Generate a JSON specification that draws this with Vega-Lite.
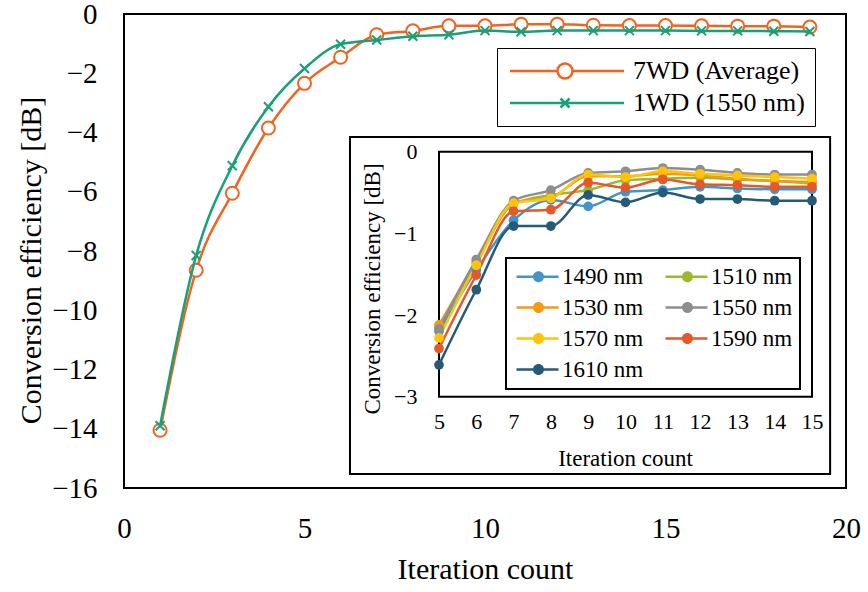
{
  "$schema": "https://vega.github.io/schema/vega-lite/v6.json",
  "width": 722,
  "height": 474,
  "autosize": {"type": "none"},
  "padding": {"left": 124, "top": 14, "right": 22, "bottom": 104},
  "background": "white",
  "config": {
    "font": "Liberation Serif",
    "view": {"stroke": "black", "strokeWidth": 2},
    "axis": {"labelColor": "black", "titleColor": "black", "labelFont": "Liberation Serif", "titleFont": "Liberation Serif", "titleFontWeight": "normal", "ticks": false, "tickSize": 0, "domain": false, "grid": false, "labelFlush": false, "labelOverlap": false},
    "legend": {"labelFont": "Liberation Serif", "labelColor": "black", "labelLimit": 400}
  },
  "datasets": {
    "main": [
      {"it": 1, "series": "7WD (Average)", "ce": -14.05},
      {"it": 2, "series": "7WD (Average)", "ce": -8.65},
      {"it": 3, "series": "7WD (Average)", "ce": -6.05},
      {"it": 4, "series": "7WD (Average)", "ce": -3.85},
      {"it": 5, "series": "7WD (Average)", "ce": -2.34},
      {"it": 6, "series": "7WD (Average)", "ce": -1.46},
      {"it": 7, "series": "7WD (Average)", "ce": -0.70},
      {"it": 8, "series": "7WD (Average)", "ce": -0.57},
      {"it": 9, "series": "7WD (Average)", "ce": -0.40},
      {"it": 10, "series": "7WD (Average)", "ce": -0.40},
      {"it": 11, "series": "7WD (Average)", "ce": -0.35},
      {"it": 12, "series": "7WD (Average)", "ce": -0.35},
      {"it": 13, "series": "7WD (Average)", "ce": -0.38},
      {"it": 14, "series": "7WD (Average)", "ce": -0.39},
      {"it": 15, "series": "7WD (Average)", "ce": -0.39},
      {"it": 16, "series": "7WD (Average)", "ce": -0.40},
      {"it": 17, "series": "7WD (Average)", "ce": -0.41},
      {"it": 18, "series": "7WD (Average)", "ce": -0.41},
      {"it": 19, "series": "7WD (Average)", "ce": -0.44},
      {"it": 1, "series": "1WD (1550 nm)", "ce": -13.9},
      {"it": 2, "series": "1WD (1550 nm)", "ce": -8.15},
      {"it": 3, "series": "1WD (1550 nm)", "ce": -5.12},
      {"it": 4, "series": "1WD (1550 nm)", "ce": -3.13},
      {"it": 5, "series": "1WD (1550 nm)", "ce": -1.84},
      {"it": 6, "series": "1WD (1550 nm)", "ce": -1.02},
      {"it": 7, "series": "1WD (1550 nm)", "ce": -0.88},
      {"it": 8, "series": "1WD (1550 nm)", "ce": -0.75},
      {"it": 9, "series": "1WD (1550 nm)", "ce": -0.70},
      {"it": 10, "series": "1WD (1550 nm)", "ce": -0.56},
      {"it": 11, "series": "1WD (1550 nm)", "ce": -0.60},
      {"it": 12, "series": "1WD (1550 nm)", "ce": -0.56},
      {"it": 13, "series": "1WD (1550 nm)", "ce": -0.56},
      {"it": 14, "series": "1WD (1550 nm)", "ce": -0.56},
      {"it": 15, "series": "1WD (1550 nm)", "ce": -0.56},
      {"it": 16, "series": "1WD (1550 nm)", "ce": -0.57},
      {"it": 17, "series": "1WD (1550 nm)", "ce": -0.57},
      {"it": 18, "series": "1WD (1550 nm)", "ce": -0.58},
      {"it": 19, "series": "1WD (1550 nm)", "ce": -0.59}
    ],
    "inset": [
      {"it": 5, "wl": "1490 nm", "ce": -2.20}, {"it": 6, "wl": "1490 nm", "ce": -1.45}, {"it": 7, "wl": "1490 nm", "ce": -0.84}, {"it": 8, "wl": "1490 nm", "ce": -0.59}, {"it": 9, "wl": "1490 nm", "ce": -0.67}, {"it": 10, "wl": "1490 nm", "ce": -0.49}, {"it": 11, "wl": "1490 nm", "ce": -0.47}, {"it": 12, "wl": "1490 nm", "ce": -0.43}, {"it": 13, "wl": "1490 nm", "ce": -0.45}, {"it": 14, "wl": "1490 nm", "ce": -0.46}, {"it": 15, "wl": "1490 nm", "ce": -0.46},
      {"it": 5, "wl": "1510 nm", "ce": -2.15}, {"it": 6, "wl": "1510 nm", "ce": -1.36}, {"it": 7, "wl": "1510 nm", "ce": -0.64}, {"it": 8, "wl": "1510 nm", "ce": -0.53}, {"it": 9, "wl": "1510 nm", "ce": -0.47}, {"it": 10, "wl": "1510 nm", "ce": -0.35}, {"it": 11, "wl": "1510 nm", "ce": -0.33}, {"it": 12, "wl": "1510 nm", "ce": -0.32}, {"it": 13, "wl": "1510 nm", "ce": -0.34}, {"it": 14, "wl": "1510 nm", "ce": -0.36}, {"it": 15, "wl": "1510 nm", "ce": -0.37},
      {"it": 5, "wl": "1530 nm", "ce": -2.12}, {"it": 6, "wl": "1530 nm", "ce": -1.35}, {"it": 7, "wl": "1530 nm", "ce": -0.62}, {"it": 8, "wl": "1530 nm", "ce": -0.56}, {"it": 9, "wl": "1530 nm", "ce": -0.30}, {"it": 10, "wl": "1530 nm", "ce": -0.30}, {"it": 11, "wl": "1530 nm", "ce": -0.27}, {"it": 12, "wl": "1530 nm", "ce": -0.29}, {"it": 13, "wl": "1530 nm", "ce": -0.33}, {"it": 14, "wl": "1530 nm", "ce": -0.36}, {"it": 15, "wl": "1530 nm", "ce": -0.39},
      {"it": 5, "wl": "1550 nm", "ce": -2.17}, {"it": 6, "wl": "1550 nm", "ce": -1.32}, {"it": 7, "wl": "1550 nm", "ce": -0.60}, {"it": 8, "wl": "1550 nm", "ce": -0.47}, {"it": 9, "wl": "1550 nm", "ce": -0.26}, {"it": 10, "wl": "1550 nm", "ce": -0.24}, {"it": 11, "wl": "1550 nm", "ce": -0.20}, {"it": 12, "wl": "1550 nm", "ce": -0.22}, {"it": 13, "wl": "1550 nm", "ce": -0.26}, {"it": 14, "wl": "1550 nm", "ce": -0.28}, {"it": 15, "wl": "1550 nm", "ce": -0.28},
      {"it": 5, "wl": "1570 nm", "ce": -2.28}, {"it": 6, "wl": "1570 nm", "ce": -1.39}, {"it": 7, "wl": "1570 nm", "ce": -0.63}, {"it": 8, "wl": "1570 nm", "ce": -0.57}, {"it": 9, "wl": "1570 nm", "ce": -0.28}, {"it": 10, "wl": "1570 nm", "ce": -0.31}, {"it": 11, "wl": "1570 nm", "ce": -0.24}, {"it": 12, "wl": "1570 nm", "ce": -0.27}, {"it": 13, "wl": "1570 nm", "ce": -0.29}, {"it": 14, "wl": "1570 nm", "ce": -0.31}, {"it": 15, "wl": "1570 nm", "ce": -0.33},
      {"it": 5, "wl": "1590 nm", "ce": -2.41}, {"it": 6, "wl": "1590 nm", "ce": -1.51}, {"it": 7, "wl": "1590 nm", "ce": -0.73}, {"it": 8, "wl": "1590 nm", "ce": -0.71}, {"it": 9, "wl": "1590 nm", "ce": -0.38}, {"it": 10, "wl": "1590 nm", "ce": -0.44}, {"it": 11, "wl": "1590 nm", "ce": -0.34}, {"it": 12, "wl": "1590 nm", "ce": -0.40}, {"it": 13, "wl": "1590 nm", "ce": -0.41}, {"it": 14, "wl": "1590 nm", "ce": -0.43}, {"it": 15, "wl": "1590 nm", "ce": -0.43},
      {"it": 5, "wl": "1610 nm", "ce": -2.61}, {"it": 6, "wl": "1610 nm", "ce": -1.69}, {"it": 7, "wl": "1610 nm", "ce": -0.91}, {"it": 8, "wl": "1610 nm", "ce": -0.91}, {"it": 9, "wl": "1610 nm", "ce": -0.53}, {"it": 10, "wl": "1610 nm", "ce": -0.62}, {"it": 11, "wl": "1610 nm", "ce": -0.50}, {"it": 12, "wl": "1610 nm", "ce": -0.58}, {"it": 13, "wl": "1610 nm", "ce": -0.58}, {"it": 14, "wl": "1610 nm", "ce": -0.60}, {"it": 15, "wl": "1610 nm", "ce": -0.60}
    ]
  },
  "layer": [
    {
      "layer": [
        {"data": {"name": "main"},
         "transform": [{"filter": "datum.series === '7WD (Average)'"}],
         "mark": {"type": "line", "color": "#F4621F", "strokeWidth": 2.5, "interpolate": "monotone"},
         "encoding": {
           "x": {"field": "it", "type": "quantitative", "scale": {"domain": [0, 20], "nice": false, "zero": false},
                 "axis": {"orient": "bottom", "values": [0, 5, 10, 15, 20], "labelFontSize": 29, "labelPadding": 26, "title": "Iteration count", "titleFontSize": 30, "titleBaseline": "alphabetic", "titleY": 90}},
           "y": {"field": "ce", "type": "quantitative", "scale": {"domain": [-16, 0], "nice": false, "zero": false},
                 "axis": {"orient": "left", "values": [0, -2, -4, -6, -8, -10, -12, -14, -16], "labelFontSize": 29, "labelPadding": 27, "title": "Conversion efficiency [dB]", "titleFontSize": 30, "titleBaseline": "alphabetic", "titleAngle": -90, "titleX": -84, "titleY": 246}}
         }},
        {"data": {"name": "main"},
         "transform": [{"filter": "datum.series === '7WD (Average)'"}],
         "mark": {"type": "point", "shape": "circle", "filled": true, "fill": "white", "stroke": "#F4621F", "strokeWidth": 2, "size": 170, "opacity": 1},
         "encoding": {
           "x": {"field": "it", "type": "quantitative", "scale": {"domain": [0, 20], "nice": false, "zero": false}},
           "y": {"field": "ce", "type": "quantitative", "scale": {"domain": [-16, 0], "nice": false, "zero": false}}
         }},
        {"data": {"name": "main"},
         "transform": [{"filter": "datum.series === '1WD (1550 nm)'"}],
         "mark": {"type": "line", "color": "#18A078", "strokeWidth": 2.5, "interpolate": "monotone"},
         "encoding": {
           "x": {"field": "it", "type": "quantitative", "scale": {"domain": [0, 20], "nice": false, "zero": false}},
           "y": {"field": "ce", "type": "quantitative", "scale": {"domain": [-16, 0], "nice": false, "zero": false}}
         }},
        {"data": {"name": "main"},
         "transform": [{"filter": "datum.series === '1WD (1550 nm)'"}],
         "mark": {"type": "point", "shape": "M-1,-1L1,1M-1,1L1,-1", "filled": false, "stroke": "#18A078", "strokeWidth": 2, "size": 81, "opacity": 1},
         "encoding": {
           "x": {"field": "it", "type": "quantitative", "scale": {"domain": [0, 20], "nice": false, "zero": false}},
           "y": {"field": "ce", "type": "quantitative", "scale": {"domain": [-16, 0], "nice": false, "zero": false}}
         }},
        {"data": {"name": "main"},
         "mark": {"type": "point", "filled": false, "opacity": 0, "strokeWidth": 2.5},
         "encoding": {
           "x": {"field": "it", "type": "quantitative", "scale": {"domain": [0, 20], "nice": false, "zero": false}},
           "y": {"field": "ce", "type": "quantitative", "scale": {"domain": [-16, 0], "nice": false, "zero": false}},
           "color": {"field": "series", "type": "nominal",
                     "scale": {"domain": ["7WD (Average)", "1WD (1550 nm)"], "range": ["#F4621F", "#18A078"]},
                     "legend": {"orient": "none", "legendX": 373, "legendY": 34, "title": null, "symbolSize": 400, "symbolStrokeWidth": 2.5, "symbolOpacity": 1, "labelFontSize": 26, "labelOffset": 100, "labelLimit": 400, "rowPadding": 6, "padding": 10, "strokeColor": "black", "fillColor": "white", "encode": {"legend": {"update": {"strokeWidth": {"value": 2}}}}}},
           "shape": {"field": "series", "type": "nominal",
                     "scale": {"domain": ["7WD (Average)", "1WD (1550 nm)"], "range": ["M-1,0L3.75,0M5.25,0L10.4,0M3.75,0A0.75,0.75 0 1,1 5.25,0A0.75,0.75 0 1,1 3.75,0", "M-1,0L10.4,0M4.05,-0.45L4.95,0.45M4.05,0.45L4.95,-0.45"]},
                     "legend": {"orient": "none", "legendX": 373, "legendY": 34, "title": null, "symbolSize": 400, "symbolStrokeWidth": 2.5, "symbolOpacity": 1, "labelFontSize": 26, "labelOffset": 100, "labelLimit": 400, "rowPadding": 6, "padding": 10, "strokeColor": "black", "fillColor": "white", "encode": {"legend": {"update": {"strokeWidth": {"value": 2}}}}}}
         }},
        {"data": {"values": [{"box": "inset"}]},
         "mark": {"type": "rect", "fill": "white", "stroke": "black", "strokeWidth": 2},
         "encoding": {
           "x": {"datum": 6.26, "type": "quantitative", "scale": {"domain": [0, 20], "nice": false, "zero": false}},
           "x2": {"datum": 19.56},
           "y": {"datum": -4.15, "type": "quantitative", "scale": {"domain": [-16, 0], "nice": false, "zero": false}},
           "y2": {"datum": -15.53}
         }}
      ]
    },
    {
      "layer": [
        {"data": {"values": [{"box": "frame"}]},
         "mark": {"type": "rect", "fill": "transparent", "stroke": "black", "strokeWidth": 2},
         "encoding": {
           "x": {"datum": 5, "type": "quantitative", "scale": {"domain": [5, 15], "range": [315, 688], "nice": false, "zero": false},
                 "axis": {"orient": "bottom", "offset": -91.3, "zindex": 1, "format": "d", "values": [5, 6, 7, 8, 9, 10, 11, 12, 13, 14, 15], "labelFontSize": 22, "labelPadding": 15, "title": "Iteration count", "titleFontSize": 23, "titleBaseline": "alphabetic", "titleX": 501, "titleY": 69}},
           "x2": {"datum": 15},
           "y": {"datum": 0, "type": "quantitative", "scale": {"domain": [-3, 0], "range": [382.7, 137.7], "nice": false, "zero": false},
                 "axis": {"orient": "left", "offset": -315, "zindex": 1, "format": "d", "values": [0, -1, -2, -3], "labelFontSize": 22, "labelPadding": 22, "title": "Conversion efficiency [dB]", "titleFontSize": 23, "titleBaseline": "alphabetic", "titleAngle": -90, "titleX": -60, "titleY": 274.5}},
           "y2": {"datum": -3}
         }},
        {"data": {"name": "inset"},
         "mark": {"type": "line", "strokeWidth": 2.5, "interpolate": "monotone"},
         "encoding": {
           "x": {"field": "it", "type": "quantitative", "scale": {"domain": [5, 15], "range": [315, 688], "nice": false, "zero": false}},
           "y": {"field": "ce", "type": "quantitative", "scale": {"domain": [-3, 0], "range": [382.7, 137.7], "nice": false, "zero": false}},
           "stroke": {"field": "wl", "type": "nominal",
                      "scale": {"domain": ["1610 nm", "1590 nm", "1570 nm", "1550 nm", "1530 nm", "1510 nm", "1490 nm"], "range": ["#265B78", "#E5582A", "#FFC30B", "#8E8E8E", "#F59B12", "#9DB82E", "#4394C8"]},
                      "legend": null}
         }},
        {"data": {"name": "inset"},
         "mark": {"type": "point", "shape": "circle", "filled": true, "size": 95, "opacity": 1},
         "encoding": {
           "x": {"field": "it", "type": "quantitative", "scale": {"domain": [5, 15], "range": [315, 688], "nice": false, "zero": false}},
           "y": {"field": "ce", "type": "quantitative", "scale": {"domain": [-3, 0], "range": [382.7, 137.7], "nice": false, "zero": false}},
           "color": {"field": "wl", "type": "nominal",
                     "scale": {"domain": ["1490 nm", "1530 nm", "1570 nm", "1610 nm", "1510 nm", "1550 nm", "1590 nm"], "range": ["#4394C8", "#F59B12", "#FFC30B", "#265B78", "#9DB82E", "#8E8E8E", "#E5582A"]},
                     "legend": {"orient": "none", "legendX": 382, "legendY": 244, "title": null, "columns": 2, "symbolType": "M-1,-0.16L1.2,-0.16L1.2,0.16L-1,0.16Z M2.3,-0.16L4.25,-0.16L4.25,0.16L2.3,0.16Z M1.06,0A0.69,0.69 0 1,1 2.44,0A0.69,0.69 0 1,1 1.06,0Z", "symbolSize": 256, "symbolStrokeWidth": 0, "symbolOpacity": 1, "labelFontSize": 23, "labelOffset": 26, "labelLimit": 400, "columnPadding": 18, "rowPadding": 7, "padding": 7, "strokeColor": "black", "fillColor": "white", "encode": {"legend": {"update": {"strokeWidth": {"value": 2}}}}}}
         }}
      ]
    }
  ],
  "resolve": {"scale": {"x": "independent", "y": "independent", "color": "independent", "shape": "independent", "stroke": "independent"}}
}
